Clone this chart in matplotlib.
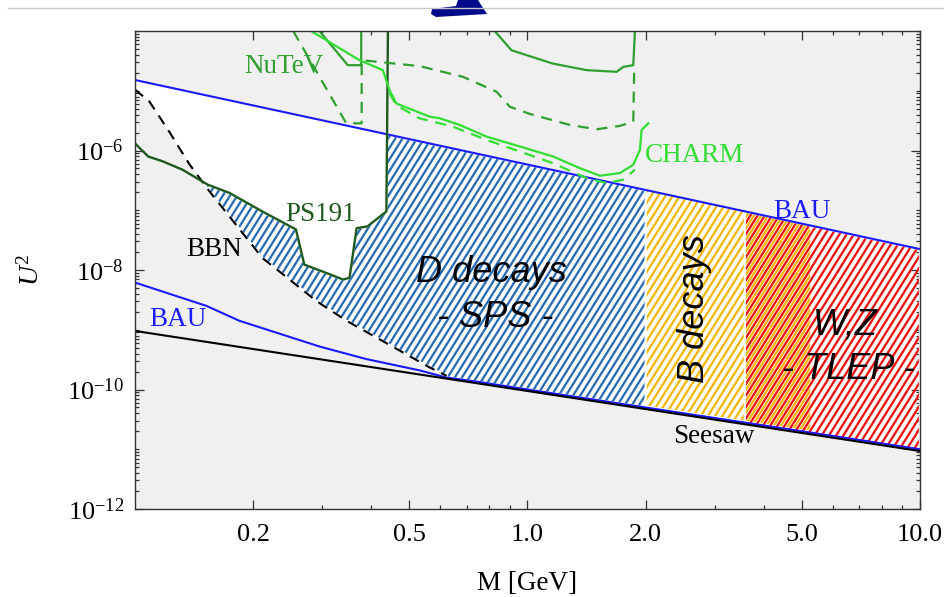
import numpy as np
import matplotlib
matplotlib.use("Agg")
import matplotlib.pyplot as plt
from matplotlib.collections import LineCollection
from matplotlib.transforms import IdentityTransform
from matplotlib.lines import Line2D
from matplotlib.patches import Polygon
from matplotlib.path import Path
from matplotlib.ticker import (FixedLocator, LogLocator, NullFormatter,
                               LogFormatterMathtext, FormatStrFormatter)

plt.rcParams.update({
    "font.family": ["Liberation Serif", "DejaVu Serif"],
    "mathtext.fontset": "custom",
    "mathtext.rm": "Liberation Serif",
    "mathtext.it": "Liberation Serif:italic",
    "mathtext.bf": "Liberation Serif:bold",
})

# ---------------- data: M [GeV] and log10(U^2) ----------------
bau_up_M = [0.1, 10.0]
bau_up_lg = [-4.82, -7.65]

seesaw_M = [0.1, 10.0]
seesaw_lg = [-9.02, -11.03]

bau_low_M = [0.1, 0.152, 0.1845, 0.295, 0.388, 0.531, 0.621, 0.756, 1.0, 10.0]
bau_low_lg = [-8.21, -8.60, -8.85, -9.28, -9.49, -9.68, -9.80, -9.875, -10.0, -11.0]

bbn_M = [0.1, 0.1088, 0.1221, 0.1376, 0.1546, 0.2113, 0.290, 0.346, 0.563, 0.622]
bbn_lg = [-4.98, -5.18, -5.68, -6.23, -6.68, -7.80, -8.52, -8.85, -9.63, -9.77]

ps191_M = [0.1, 0.108, 0.1175, 0.132, 0.153, 0.174, 0.211, 0.257, 0.270,
           0.313, 0.339, 0.352, 0.367, 0.391, 0.437, 0.441]
ps191_lg = [-5.88, -6.10, -6.18, -6.32, -6.57, -6.71, -7.02, -7.32, -7.91,
            -8.07, -8.16, -8.13, -7.30, -7.27, -7.02, -4.0]

nutev_a_M = [0.295, 0.3485, 0.377, 0.377]
nutev_a_lg = [-4.0, -4.572, -4.572, -4.0]
nutev_b_M = [0.825, 0.910, 1.160, 1.414, 1.687, 1.754, 1.860, 1.878]
nutev_b_lg = [-4.0, -4.322, -4.545, -4.655, -4.683, -4.60, -4.572, -4.0]
nutev_dash_M = [0.253, 0.3453, 0.378, 0.378, 0.531, 0.685, 0.834, 0.901, 1.014,
                1.282, 1.500, 1.720, 1.860, 1.871]
nutev_dash_lg = [-4.0, -5.545, -5.545, -4.488, -4.588, -4.767, -5.017, -5.267,
                 -5.388, -5.572, -5.645, -5.588, -5.517, -4.567]

charm_M = [0.281, 0.373, 0.428, 0.445, 0.463, 0.563, 0.597, 0.672, 0.786, 0.956,
           1.162, 1.359, 1.529, 1.720, 1.860, 1.934, 1.953, 2.031]
charm_lg = [-4.0, -4.488, -4.655, -4.988, -5.212, -5.433, -5.46, -5.572, -5.767,
            -5.933, -6.10, -6.295, -6.422, -6.378, -6.238, -5.988, -5.655, -5.545]
charm_dash_M = [0.445, 0.463, 0.531, 0.645, 0.786, 0.956, 1.160, 1.414, 1.590,
                1.754, 1.878]
charm_dash_lg = [-5.04, -5.24, -5.462, -5.60, -5.822, -6.017, -6.212, -6.462,
                 -6.545, -6.488, -6.322]

d_range = [0.15, 2.0]
b_range = [2.0, 5.25]
wz_range = [3.58, 10.0]

x_major = [0.2, 0.5, 1.0, 2.0, 5.0, 10.0]
y_major = [1e-12, 1e-10, 1e-8, 1e-6]

# colours
C_BAU = "#1a1aff"
C_PS191 = "#1e5a1e"
C_NUTEV = "#2f9f2f"
C_CHARM = "#33dd33"
C_D = "#2a6db5"
C_B = "#f2b705"
C_WZ = "#ee1111"


def lg(M, xs, ys):
    return np.interp(np.log10(M), np.log10(xs), ys)


def grid(lo, hi, extra):
    g = np.logspace(np.log10(lo), np.log10(hi), 1500)
    e = np.array([v for v in extra if lo <= v <= hi])
    return np.unique(np.concatenate([g, e]))


def bbn_masked(M):
    v = lg(M, bbn_M, bbn_lg)
    return np.where(M <= bbn_M[-1], v, -99.0)


def ps191_masked(M):
    v = lg(M, ps191_M, ps191_lg)
    return np.where(M <= ps191_M[-1], v, 99.0)


def add_stripes(ax, coll, color, phase, period=7.2, angle=58.0, lw_px=2.3, z=2.0):
    x0, y0, w, h = ax.bbox.bounds
    dx = h / np.tan(np.radians(angle))
    segs = []
    for k in range(int(np.floor(-dx / period)) - 2, int(np.ceil(w / period)) + 2):
        xb = x0 + (k + phase) * period
        segs.append([(xb, y0), (xb + dx, y0 + h)])
    lc = LineCollection(segs, colors=color, linewidths=lw_px * 72.0 / ax.figure.dpi,
                        transform=IdentityTransform(), zorder=z)
    ax.add_collection(lc, autolim=False)
    paths = coll.get_paths()
    clip = Path.make_compound_path(*paths) if len(paths) > 1 else paths[0]
    lc.set_clip_path(clip, ax.transData)
    return lc


fig = plt.figure(figsize=(9.45, 5.97), dpi=100)
fig.patch.set_facecolor("white")
ax = fig.add_axes([135 / 945, 1 - 509 / 597, 785 / 945, 478 / 597])
ax.set_xscale("log")
ax.set_yscale("log")
ax.set_xlim(0.1, 10.0)
ax.set_ylim(1e-12, 1e-4)
ax.set_facecolor("#f0f0f0")

allx = bbn_M + ps191_M + bau_low_M + list(d_range) + list(b_range) + list(wz_range)

# allowed (white) region
M_all = grid(0.1, 10.0, allx)
up_all = lg(M_all, bau_up_M, bau_up_lg)
lo_all = np.maximum(bbn_masked(M_all), lg(M_all, bau_low_M, bau_low_lg))
ax.fill_between(M_all, 10 ** lo_all, 10 ** up_all, facecolor="white",
                linewidth=0, zorder=1)

# D decays region
M_d = grid(d_range[0], d_range[1], allx)
up_d = np.minimum(lg(M_d, bau_up_M, bau_up_lg), ps191_masked(M_d))
lo_d = np.maximum(bbn_masked(M_d), lg(M_d, bau_low_M, bau_low_lg))
poly_d = ax.fill_between(M_d, 10 ** lo_d, 10 ** up_d, where=up_d > lo_d,
                         interpolate=True, facecolor="none", edgecolor="white",
                         linewidth=1.6, zorder=3)
add_stripes(ax, poly_d, C_D, 0.0)

# B decays region
M_b = grid(b_range[0], b_range[1], allx)
up_b = lg(M_b, bau_up_M, bau_up_lg)
lo_b = lg(M_b, seesaw_M, seesaw_lg) + 0.06
poly_b = ax.fill_between(M_b, 10 ** lo_b, 10 ** up_b, facecolor="none",
                         linewidth=0, zorder=1.5)
add_stripes(ax, poly_b, C_B, 0.5)

# W,Z region
M_w = grid(wz_range[0], wz_range[1], allx)
up_w = lg(M_w, bau_up_M, bau_up_lg)
lo_w = lg(M_w, seesaw_M, seesaw_lg)
poly_w = ax.fill_between(M_w, 10 ** lo_w, 10 ** up_w, facecolor="none",
                         edgecolor="white", linewidth=1.6, zorder=3)
add_stripes(ax, poly_w, C_WZ, 0.0)

# curves
lw = 1.5
ax.plot(bau_up_M, 10 ** np.array(bau_up_lg), color=C_BAU, lw=lw, zorder=4)
ax.plot(bau_low_M, 10 ** np.array(bau_low_lg), color=C_BAU, lw=lw, zorder=4)
ax.plot(seesaw_M, 10 ** np.array(seesaw_lg), color="black", lw=lw, zorder=4.1)
ax.plot(bbn_M, 10 ** np.array(bbn_lg), color="black", lw=lw, ls=(0, (5, 3.5)), zorder=4)
ax.plot(ps191_M, 10 ** np.array(ps191_lg), color=C_PS191, lw=1.7, zorder=4)
ax.plot(nutev_a_M, 10 ** np.array(nutev_a_lg), color=C_NUTEV, lw=1.6, zorder=4)
ax.plot(nutev_b_M, 10 ** np.array(nutev_b_lg), color=C_NUTEV, lw=1.6, zorder=4)
ax.plot(nutev_dash_M, 10 ** np.array(nutev_dash_lg), color=C_NUTEV, lw=1.6,
        ls=(0, (5, 3.5)), zorder=4)
ax.plot(charm_M, 10 ** np.array(charm_lg), color=C_CHARM, lw=1.6, zorder=4)
ax.plot(charm_dash_M, 10 ** np.array(charm_dash_lg), color=C_CHARM, lw=1.6,
        ls=(0, (5, 3.5)), zorder=4)

# labels
fs = 19.5
ax.text(0.239, 10 ** -4.59, "NuTeV", color=C_NUTEV, fontsize=fs, ha="center", va="center", zorder=6)
ax.text(1.991, 10 ** -6.078, "CHARM", color=C_CHARM, fontsize=fs, ha="left", va="center", zorder=6)
ax.text(4.995, 10 ** -7.023, "BAU", color=C_BAU, fontsize=fs, ha="center", va="center", zorder=6)
ax.text(0.1288, 10 ** -8.828, "BAU", color=C_BAU, fontsize=fs, ha="center", va="center", zorder=6)
ax.text(0.297, 10 ** -7.078, "PS191", color=C_PS191, fontsize=fs, ha="center", va="center", zorder=6)
ax.text(0.159, 10 ** -7.662, "BBN", color="black", fontsize=fs, ha="center", va="center", zorder=6)
ax.text(2.991, 10 ** -10.79, "Seesaw", color="black", fontsize=fs, ha="center", va="center", zorder=6)

sfs = 26
sans = dict(family=["Liberation Sans", "DejaVu Sans"], style="italic", fontsize=sfs,
            color="black", ha="center", va="center", zorder=6)
ax.text(0.8087, 10 ** -8.05, "D decays", **sans)
ax.text(0.825, 10 ** -8.793, "- SPS -", **sans)
ax.text(2.666, 10 ** -8.65, "B decays", rotation=90, **sans)
ax.text(6.47, 10 ** -8.917, "W,Z", **sans)
ax.text(6.56, 10 ** -9.667, "- TLEP -", **sans)

# axes formatting
ax.xaxis.set_major_locator(FixedLocator(x_major))
ax.xaxis.set_major_formatter(FormatStrFormatter("%.1f"))
ax.xaxis.set_minor_locator(LogLocator(base=10, subs=np.arange(2, 10), numticks=20))
ax.xaxis.set_minor_formatter(NullFormatter())
ax.yaxis.set_major_locator(FixedLocator(y_major))
ax.yaxis.set_major_formatter(LogFormatterMathtext())
ax.yaxis.set_minor_locator(LogLocator(base=10, subs=np.arange(1, 10), numticks=30))
ax.yaxis.set_minor_formatter(NullFormatter())
ax.tick_params(which="both", direction="in", top=True, right=True, width=0.9,
               color="#333333", labelsize=19)
ax.tick_params(which="major", length=6.5)
ax.tick_params(which="minor", length=3.2)
ax.tick_params(axis="x", which="major", pad=11)
ax.tick_params(axis="y", which="major", pad=8)
for s in ax.spines.values():
    s.set_color("#333333")
    s.set_linewidth(1.0)
    s.set_zorder(7)

ax.set_xlabel("M [GeV]", fontsize=19.5)
ax.xaxis.set_label_coords(0.5, -0.13)
ax.set_ylabel("$U^2$", fontsize=20)
ax.yaxis.set_label_coords(-0.115, 0.5)

# slide decorations (top rule and arrow)
fig.add_artist(Line2D([8 / 945, 1.0], [1 - 8.3 / 597] * 2, transform=fig.transFigure,
                      color="#c8c8c8", lw=1.0))
arrow_px = [(432, 9), (456, 6), (458, 0), (478, 0), (487, 14), (436, 17), (431, 14)]
fig.add_artist(Polygon([(x / 945, 1 - y / 597) for x, y in arrow_px], closed=True,
                       transform=fig.transFigure, facecolor="#000a8a", edgecolor="none"))

fig.savefig("out.png", dpi=100, facecolor="white")
